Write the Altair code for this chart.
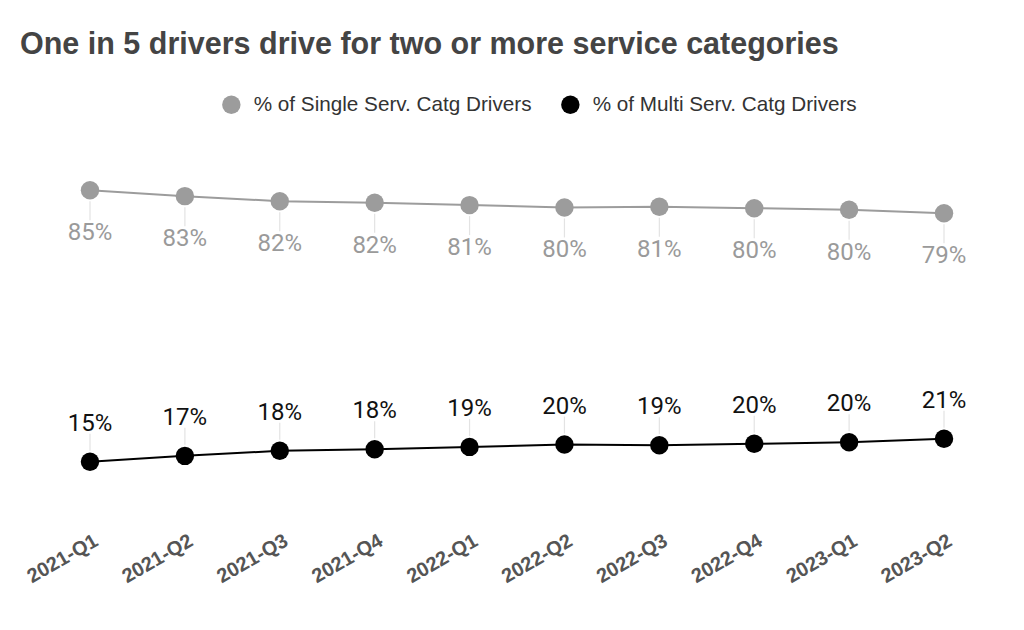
import altair as alt
import pandas as pd

quarters = ["2021-Q1", "2021-Q2", "2021-Q3", "2021-Q4", "2022-Q1",
            "2022-Q2", "2022-Q3", "2022-Q4", "2023-Q1", "2023-Q2"]
single_pct = [84.8, 83.3, 82.0, 81.6, 81.0, 80.4, 80.6, 80.2, 79.8, 78.9]
multi_pct = [15.2, 16.7, 18.0, 18.4, 19.0, 19.6, 19.4, 19.8, 20.2, 21.1]
series_names = ["% of Single Serv. Catg Drivers", "% of Multi Serv. Catg Drivers"]
series_colors = ["#9c9c9c", "#000000"]

rows = []
for q, s, m in zip(quarters, single_pct, multi_pct):
    rows.append({"quarter": q, "series": series_names[0], "value": s})
    rows.append({"quarter": q, "series": series_names[1], "value": m})
df = pd.DataFrame(rows)
single_df = df[df.series == series_names[0]]
multi_df = df[df.series == series_names[1]]

x = alt.X("quarter:N", sort=quarters, title=None,
          scale=alt.Scale(type="point", padding=0.706),
          axis=alt.Axis(labelAngle=-30, labelFont="Liberation Sans", labelFontWeight="bold",
                        labelFontSize=20, labelColor="#555555", ticks=False, domain=False,
                        grid=False, labelPadding=18, labelOffset=6, labelAlign="right",
                        labelBaseline="middle"))
y = alt.Y("value:Q", scale=alt.Scale(domain=[0, 100]), axis=None)

single_line = alt.Chart(single_df).mark_line(strokeWidth=2, color=series_colors[0]).encode(x=x, y=y)
multi_line = alt.Chart(multi_df).mark_line(strokeWidth=2, color=series_colors[1]).encode(x=x, y=y)

points = alt.Chart(df).mark_circle(size=340, opacity=1).encode(
    x=x, y=y,
    color=alt.Color("series:N", scale=alt.Scale(domain=series_names, range=series_colors),
                    legend=alt.Legend(title=None, orient="none", direction="horizontal",
                                      legendX=198, legendY=-37, symbolSize=340, symbolType="circle",
                                      labelFont="Liberation Sans", labelFontSize=20.7, labelColor="#333333",
                                      labelLimit=500, labelOffset=12, columnPadding=28, padding=0,
                                      symbolStrokeWidth=0)))

lab_calc = "format(datum.value, '.0f') + '%'"

single_rules = alt.Chart(single_df).mark_rule(color="#e3e3e3", strokeWidth=1.2, yOffset=11, y2Offset=30).encode(
    x=x, y=y, y2="value:Q")
multi_rules = alt.Chart(multi_df).mark_rule(color="#e3e3e3", strokeWidth=1.2, yOffset=-11, y2Offset=-28).encode(
    x=x, y=y, y2="value:Q")

single_text = alt.Chart(single_df).transform_calculate(label=lab_calc).mark_text(
    dy=43, font="Roboto", fontSize=24, color="#9a9a9a").encode(x=x, y=y, text="label:N")
multi_text = alt.Chart(multi_df).transform_calculate(label=lab_calc).mark_text(
    dy=-38, font="Roboto", fontSize=24, color="#111111").encode(x=x, y=y, text="label:N")

chart = alt.layer(single_rules, multi_rules, single_line, multi_line, points, single_text, multi_text).properties(
    width=988, height=390, background="white",
    title=alt.TitleParams("One in 5 drivers drive for two or more service categories",
                          anchor="start", font="Liberation Sans", fontSize=30.5, fontWeight="bold",
                          color="#444444", offset=34, dx=-3),
    padding={"left": 12, "top": 21, "right": 5, "bottom": 5},
).configure_view(stroke=None)

chart.save("out.html", embed_options={"renderer": "svg", "actions": False})
